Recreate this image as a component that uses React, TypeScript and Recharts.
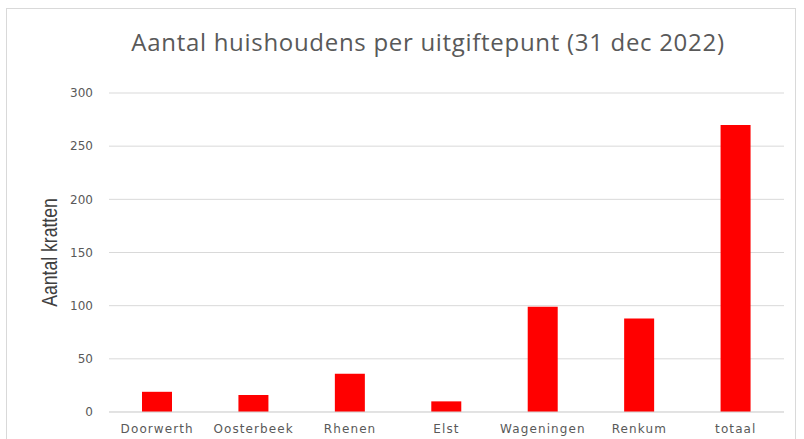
import { BarChart, Bar, XAxis, YAxis, CartesianGrid } from "recharts";

// Uitgiftepunten en aantal huishoudens (31 dec 2022)
const locations = ["Doorwerth", "Oosterbeek", "Rhenen", "Elst", "Wageningen", "Renkum", "totaal"];
const households = [19, 16, 36, 10, 99, 88, 270];
const yTicks = [0, 50, 100, 150, 200, 250, 300];

const data = locations.map((name, i) => ({ name, value: households[i] }));

// rotated, condensed axis title
const YTitle = ({ viewBox }: any) => {
  const x = 49;
  const y = viewBox.y + viewBox.height / 2;
  return (
    <text
      transform={`translate(${x},${y}) rotate(-90) scale(0.8,1)`}
      textAnchor="middle"
      dominantBaseline="central"
      fill="#404040"
      fontSize={22}
      fontFamily="'Liberation Sans', sans-serif"
    >
      Aantal kratten
    </text>
  );
};

export default function App() {
  return (
    <div style={{ position: "fixed", left: 0, top: 0, width: 804, height: 439, background: "#fff" }}>
      <div
        style={{
          position: "absolute",
          left: 6,
          top: 8,
          width: 788,
          height: 440,
          border: "1px solid #d9d9d9",
        }}
      />
      <div
        style={{
          position: "absolute",
          left: 0,
          top: 25,
          width: 856,
          textAlign: "center",
          fontFamily: "'Open Sans', sans-serif",
          fontSize: 24,
          letterSpacing: 0.7,
          color: "#595959",
        }}
      >
        Aantal huishoudens per uitgiftepunt (31 dec 2022)
      </div>
      <div style={{ position: "absolute", left: 0, top: 0 }}>
        <BarChart
          width={804}
          height={439}
          data={data}
          margin={{ top: 93, right: 20, left: 29, bottom: 0 }}
          barSize={30}
        >
          <CartesianGrid vertical={false} stroke="#d9d9d9" />
          <XAxis
            dataKey="name"
            height={27}
            tickLine={false}
            axisLine={{ stroke: "#d9d9d9" }}
            tick={{ fill: "#595959", fontSize: 12, fontFamily: "'DejaVu Sans', sans-serif", letterSpacing: 1.1 }}
            tickMargin={6}
          />
          <YAxis
            width={80}
            domain={[0, 300]}
            ticks={yTicks}
            tickLine={false}
            axisLine={false}
            tickSize={0}
            tickMargin={16}
            tick={{ fill: "#595959", fontSize: 12, fontFamily: "'DejaVu Sans', sans-serif" }}
            label={<YTitle />}
          />
          <Bar dataKey="value" fill="#ff0000" isAnimationActive={false} />
        </BarChart>
      </div>
    </div>
  );
}
